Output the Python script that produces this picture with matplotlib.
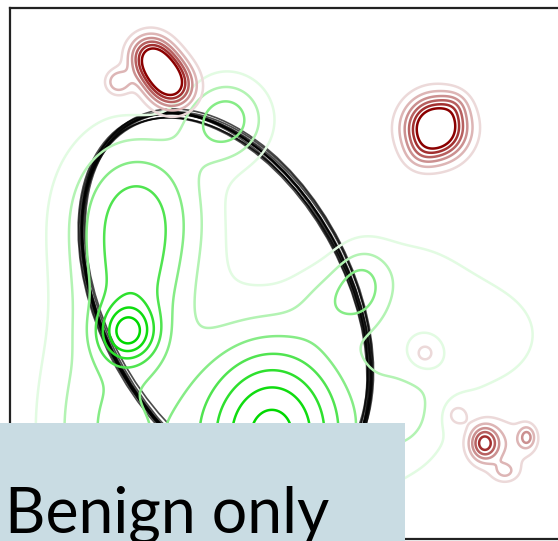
import numpy as np
import matplotlib
matplotlib.use("Agg")
import matplotlib.pyplot as plt
from matplotlib.patches import Ellipse, Rectangle

# benign density: gaussian bumps (x, y, sx, sy, weight); negative weights
# mark where malicious samples pull the benign estimate down
benign_x = [137, 135, 110, 128, 272, 227, 330, 362, 465, 400, 410, 425, 458, 155]
benign_y = [215, 300, 430, 333, 435, 119, 300, 285, 335, 265, 420, 353, 415, 68]
benign_sx = [50, 35, 50, 20, 58, 30, 25, 20, 75, 45, 30, 15, 12, 25]
benign_sy = [60, 40, 100, 20, 72, 30, 25, 28, 55, 30, 40, 15, 12, 25]
benign_w = [4.3, 1.5, 3.0, 4.2, 7.4, 3.4, 1.2, 2.0, 1.5, 0.8, 1.5, -1.4, -1.0, -1.0]
benign_levels = [1, 2, 3, 4, 5, 6, 7]
benign_colors = ["#e2fbe2", "#b3f3b3", "#86ec86", "#50e450",
                 "#2ee02e", "#10dc10", "#00d800"]

# malicious density
mal_x = [150, 161, 173, 118, 436, 420, 455, 484, 527, 505, 503, 425, 458]
mal_y = [55, 71, 87, 82, 128, 155, 105, 443, 437, 472, 445, 353, 415]
mal_sx = [15, 15, 16, 9, 21, 12, 10, 10, 6, 9, 25, 7, 7]
mal_sy = [15, 15, 16, 9, 21, 12, 10, 12, 8, 7, 22, 7, 7]
mal_w = [5.0, 5.0, 5.5, 2.8, 9.0, 1.0, 1.0, 4.5, 2.6, 1.6, 1.6, 1.5, 1.5]
mal_levels = [1, 2, 3, 4, 5, 6]
mal_colors = ["#ecd9d9", "#ddb5b5", "#cb9090", "#b76060", "#a23030", "#8b0000"]

# decision ellipses (centre x, centre y, width, height, angle)
ell_cx = [226, 224, 228, 226, 223, 229, 225, 227, 226, 224, 228, 225]
ell_cy = [302, 304, 300, 305, 302, 299, 303, 301, 306, 300, 303, 302]
ell_w = [405, 401, 409, 403, 407, 400, 410, 404, 406, 402, 408, 405]
ell_h = [248, 244, 252, 245, 250, 246, 243, 253, 247, 249, 245, 251]
ell_a = [62.6, 62.1, 63.1, 62.4, 62.9, 61.9, 62.7, 63.3, 62.2, 63.0, 62.5, 62.0]


def density(xx, yy, cx, cy, sx, sy, w):
    z = np.zeros_like(xx)
    for a, b, s, t, k in zip(cx, cy, sx, sy, w):
        z += k * np.exp(-0.5 * (((xx - a) / s) ** 2 + ((yy - b) / t) ** 2))
    return z


gx = np.linspace(0, 580, 480)
gy = np.linspace(0, 560, 480)
xx, yy = np.meshgrid(gx, gy)
zb = density(xx, yy, benign_x, benign_y, benign_sx, benign_sy, benign_w)
zm = density(xx, yy, mal_x, mal_y, mal_sx, mal_sy, mal_w)

fig = plt.figure(figsize=(5.58, 5.41), dpi=100)
ax = fig.add_axes([10 / 558, 2 / 541, 560 / 558, 531 / 541])
ax.contour(xx, yy, zb, levels=benign_levels, colors=benign_colors, linewidths=1.8)
ax.contour(xx, yy, zm, levels=mal_levels, colors=mal_colors, linewidths=1.8)

for cx, cy, w, h, a in zip(ell_cx, ell_cy, ell_w, ell_h, ell_a):
    ax.add_patch(Ellipse((cx, cy), w, h, angle=a, fill=False,
                         ec="black", lw=1.2, alpha=0.7))

ax.set_xlim(10, 570)
ax.set_ylim(539, 8)
ax.set_xticks([])
ax.set_yticks([])
for s in ax.spines.values():
    s.set_linewidth(1.6)
    s.set_color("#222222")

fig.patches.append(Rectangle((0, 0), 405 / 558, 118 / 541, transform=fig.transFigure,
                             fc="#c9dce3", ec="none", zorder=5))
fig.text(5 / 558, 8 / 541, "Benign only", fontsize=45, family="Lato",
         color="black", zorder=6)

fig.savefig("out.png", dpi=100)
